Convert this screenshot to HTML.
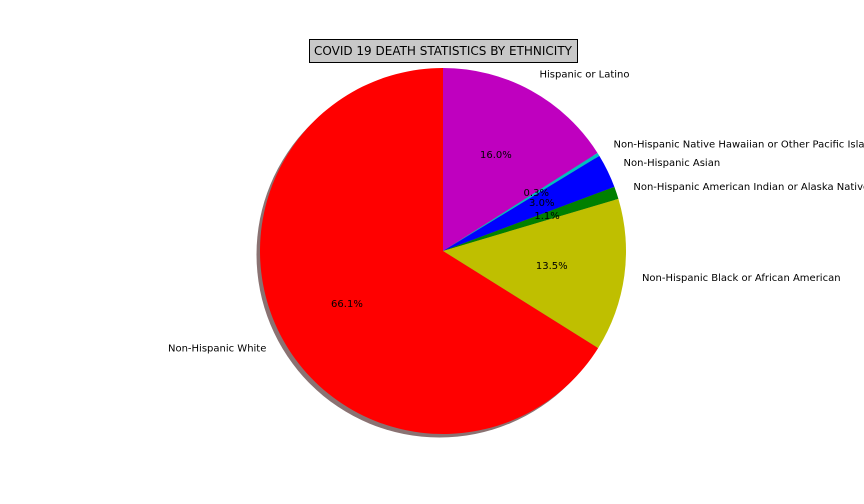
<!DOCTYPE html>
<html><head><meta charset="utf-8"><style>
body{margin:0;background:#fff;}
svg{display:block;font-family:"DejaVu Sans","Liberation Sans",sans-serif;}
</style></head><body>
<svg id="chart" width="864" height="504">
<rect x="309.5" y="39.5" width="268" height="23" fill="#c8c8c8" stroke="#000"/>
<text x="443" y="55" font-size="12" text-anchor="middle">COVID 19 DEATH STATISTICS BY ETHNICITY</text>
<g id="shadow"></g>
<g id="slices"></g>
<g id="labels"></g>
</svg>
<script>
const categories=["Hispanic or Latino","Non-Hispanic Native Hawaiian or Other Pacific Islander","Non-Hispanic Asian","Non-Hispanic American Indian or Alaska Native","Non-Hispanic Black or African American","Non-Hispanic White"];
const values=[16.0,0.3,3.0,1.1,13.5,66.1];
const colors=["#bf00bf","#00bfbf","#0000ff","#008000","#bfbf00","#ff0000"];
const NS="http://www.w3.org/2000/svg";
const cx=443,cy=251,R=183;
const total=values.reduce((a,b)=>a+b,0);
const sh=document.getElementById('shadow');
const c=document.createElementNS(NS,'circle');
c.setAttribute('cx',cx-3.5);c.setAttribute('cy',cy+3.5);c.setAttribute('r',R);
c.setAttribute('fill','rgba(60,20,20,0.6)');


sh.appendChild(c);
const sg=document.getElementById('slices'),lg=document.getElementById('labels');
let ang=90;
function pt(a,r){const t=a*Math.PI/180;return [cx+r*Math.cos(t),cy-r*Math.sin(t)];}
values.forEach((v,i)=>{
  const sweep=v/total*360;
  const a0=ang,a1=ang-sweep;
  const p0=pt(a0,R),p1=pt(a1,R);
  const path=document.createElementNS(NS,'path');
  path.setAttribute('d',`M${cx},${cy} L${p0[0]},${p0[1]} A${R},${R} 0 ${sweep>180?1:0} 1 ${p1[0]},${p1[1]} Z`);
  path.setAttribute('fill',colors[i]);
  
  
  sg.appendChild(path);
  const mid=(a0+a1)/2;
  const lp=pt(mid,R*1.1);
  const t=document.createElementNS(NS,'text');
  t.setAttribute('x',lp[0]-0.5);t.setAttribute('y',lp[1]+3);
  t.setAttribute('font-size','10');
  t.setAttribute('text-anchor',Math.cos(mid*Math.PI/180)>=0?'start':'end');
  t.textContent=categories[i];
  
  
  lg.appendChild(t);
  const pp=pt(mid,R*0.6);
  const q=document.createElementNS(NS,'text');
  q.setAttribute('x',pp[0]);q.setAttribute('y',pp[1]+3);
  q.setAttribute('font-size','10');q.setAttribute('text-anchor','middle');
  q.textContent=(v/total*100).toFixed(1)+'%';
  
  
  lg.appendChild(q);
  ang=a1;
});
</script>
</body></html>
